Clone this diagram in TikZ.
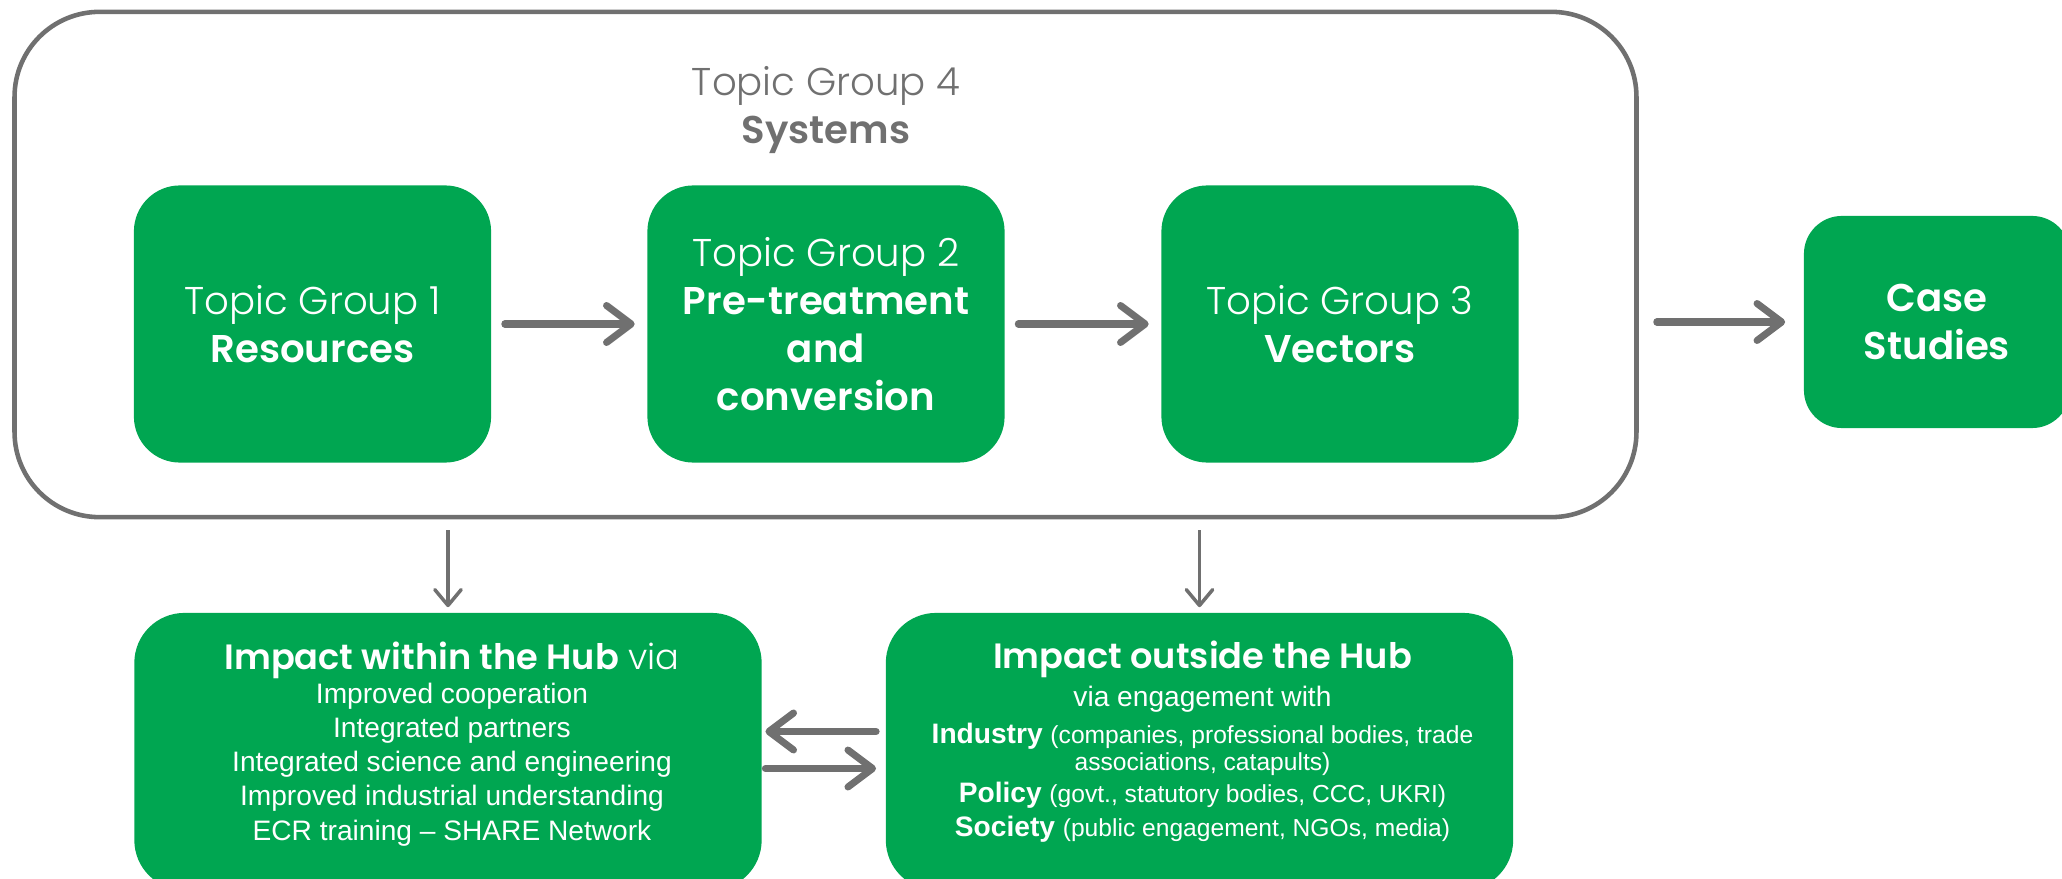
\documentclass[tikz,border=0pt]{standalone}
\usepackage{fontspec}
\setmainfont{Liberation Sans}
\newfontfamily\gothic{Poppins}[UprightFont=* Light, BoldFont=* SemiBold]
\usepackage{xcolor}
\usepackage{tikz}
\usetikzlibrary{arrows.meta, positioning}
\definecolor{hubgreen}{RGB}{0,166,81}
\definecolor{hubgray}{RGB}{112,112,112}

\begin{document}
\begin{tikzpicture}[x=0.01cm, y=-0.01cm,
    tgbox/.style={fill=hubgreen, rounded corners=0.46cm, minimum width=3.57cm, minimum height=2.77cm,
        text=white, align=center, font=\gothic\fontsize{11}{13.7}\selectfont},
    impactbox/.style={fill=hubgreen, rounded corners=0.5cm, minimum width=6.27cm, minimum height=2.77cm},
    impacttext/.style={text=white, align=center, inner sep=0pt, font=\fontsize{8}{9.7}\selectfont},
    bigarrow/.style={-{Straight Barb[length=7pt, width=10.5pt, round]}, hubgray, line width=2pt, line cap=round},
    smallarrow/.style={-{Straight Barb[length=4.5pt, width=7.5pt, round]}, hubgray, line width=1pt}]
                \useasboundingbox (0,0) rectangle (2062,879);
                % Topic Group 4 frame
                \node[draw=hubgray, line width=1.3pt, rounded corners=0.85cm, minimum width=16.21cm,
                    minimum height=5.05cm] (frame) at (825.5,264.5) {};
                \node[text=hubgray, align=center, font=\gothic\fontsize{11}{13.4}\selectfont] (tg4) at (826,110)
                    {Topic Group 4\\\textbf{Systems}};
                % Topic groups
                \node[tgbox] (tg1) at (312.5,324) {Topic Group 1\\\textbf{Resources}};
                \node[tgbox] (tg2) at (826,324) {Topic Group 2\\\textbf{Pre-treatment}\\\textbf{and}\\\textbf{conversion}};
                \node[tgbox] (tg3) at (1340,324) {Topic Group 3\\\textbf{Vectors}};
                % Case studies
                \node[tgbox, rounded corners=0.38cm, minimum width=2.66cm, minimum height=2.12cm] (case) at (1937,322)
                    {\textbf{Case}\\\textbf{Studies}};
                % Impact
                \node[impactbox] (within) at (448,751.5) {};
                \node[impactbox] (outside) at (1199.5,751.5) {};
                \node[impacttext, below=0.29cm of within.north, xshift=0.04cm] (withintxt)
                    {{\gothic\fontsize{10}{10}\selectfont\textbf{Impact within the Hub} via}\\
                    Improved cooperation\\
                    Integrated partners\\
                    Integrated science and engineering\\
                    Improved industrial understanding\\
                    ECR training -- SHARE Network};
                \node[impacttext, below=0.28cm of outside.north, xshift=0.03cm] (outsidetxt)
                    {{\gothic\fontsize{10}{10}\selectfont\textbf{Impact outside the Hub}}\\[1.1pt]
                    via engagement with\\[0.9pt]
                    \textbf{Industry} {\fontsize{7}{9}\selectfont(companies, professional bodies, trade}\\[-2pt]
                    {\fontsize{7}{9}\selectfont associations, catapults)}\\[-0.6pt]
                    \textbf{Policy} {\fontsize{7}{9}\selectfont(govt., statutory bodies, CCC, UKRI)}\\
                    \textbf{Society} {\fontsize{7}{9}\selectfont(public engagement, NGOs, media)}};
                % Arrows
                \draw[bigarrow, shorten <=0.13cm, shorten >=0.12cm] (tg1) -- (tg2);
                \draw[bigarrow, shorten <=0.13cm, shorten >=0.12cm] (tg2) -- (tg3);
                \draw[bigarrow, shorten <=0.18cm, shorten >=0.18cm] (frame.east |- case) -- (case);
                \draw[smallarrow, shorten <=0.11cm, shorten >=0.05cm] (frame.south -| within) -- (within);
                \draw[smallarrow, shorten <=0.11cm, shorten >=0.05cm] (frame.south -| outside) -- (outside);
                \draw[bigarrow, shorten <=0.09cm, shorten >=0.03cm] ([yshift=0.2cm]outside.west) -- ([yshift=0.2cm]within.east);
                \draw[bigarrow, shorten <=0.03cm, shorten >=0.09cm] ([yshift=-0.17cm]within.east) -- ([yshift=-0.17cm]outside.west);
\end{tikzpicture}
\end{document}
